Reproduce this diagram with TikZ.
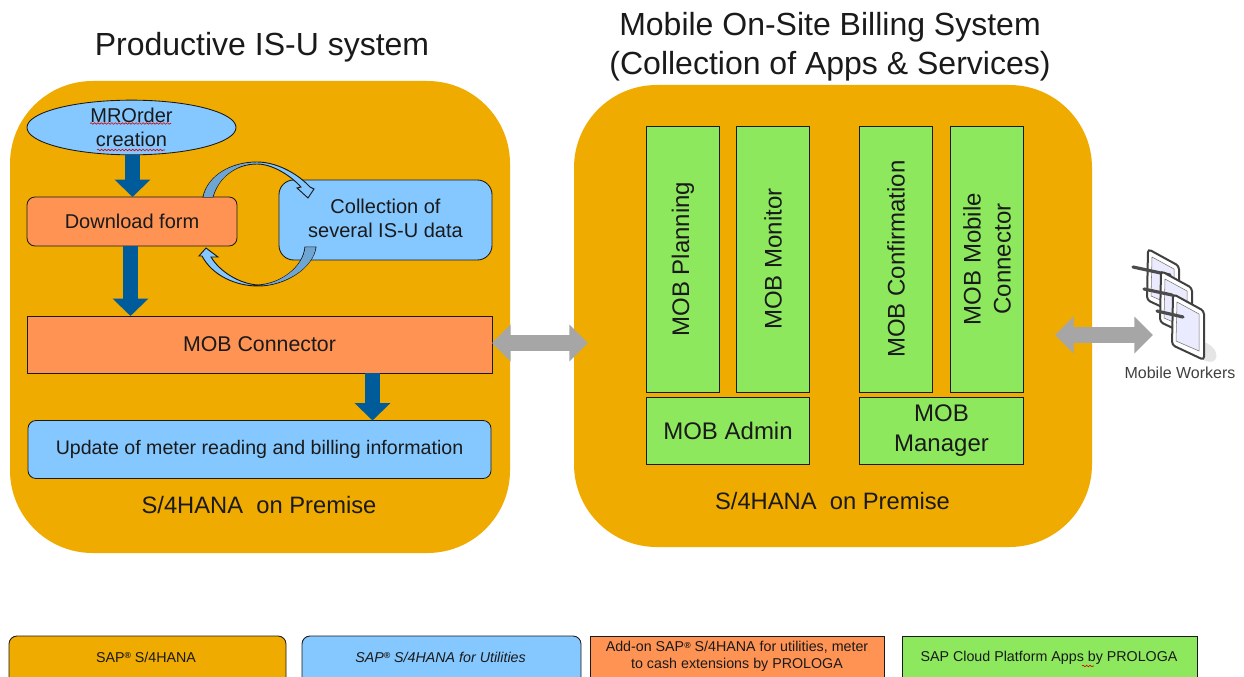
\documentclass[tikz,border=0pt]{standalone}
\usepackage{fontspec}
\setmainfont{Liberation Sans}
\usetikzlibrary{arrows.meta,shapes.geometric,decorations.pathmorphing}
\definecolor{amber}{HTML}{F0AB00}
\definecolor{skyb}{HTML}{85C8FF}
\definecolor{orng}{HTML}{FF9353}
\definecolor{grn}{HTML}{8DE85E}
\definecolor{navy}{HTML}{005B9A}
\definecolor{gry}{HTML}{A6A6A6}
\definecolor{steel}{HTML}{6FA5D2}
\definecolor{ink}{HTML}{1A1A1A}
\newcommand{\regmark}{\raisebox{0.45ex}{\fontsize{6.5}{7}\selectfont\bfseries ®}}
\tikzset{
  bsize/.style 2 args={minimum width=#1*0.75pt,minimum height=#2*0.75pt},
  base/.style={draw=ink,line width=0.65pt,inner sep=0pt,outer sep=0pt,align=center,text=ink,font=\fontsize{15}{18}\selectfont},
  bluebox/.style={base,fill=skyb,rounded corners=6pt},
  orangebox/.style={base,fill=orng},
  greenbox/.style={base,fill=grn,font=\fontsize{18}{22.5}\selectfont},
  panel/.style={inner sep=0pt,outer sep=0pt,fill=amber,rounded corners=62pt},
  legend/.style={base,font=\fontsize{10.7}{14}\selectfont},
  legendtext/.style={inner sep=0pt,text=ink,align=center,font=\fontsize{10.7}{12.75}\selectfont},
  title/.style={inner sep=0pt,text=ink,align=center,font=\fontsize{24}{29}\selectfont},
  caption/.style={inner sep=0pt,text=ink,font=\fontsize{17.8}{20}\selectfont},
  downarrow/.style={draw=navy,line width=11.5pt,-{Triangle[length=13pt,width=26pt]}},
  bothways/.style={draw=gry,line width=12pt,{Triangle[length=14pt,width=27pt]}-{Triangle[length=14pt,width=27pt]}},
  loop/.style={draw=ink,line width=0.7pt,fill=skyb},
  loopdark/.style={draw=none,fill=steel},
  squig/.style={draw=red!85!black,line width=0.45pt,decorate,decoration={snake,segment length=2.6pt,amplitude=0.6pt}},
  tabbody/.style={draw=black!75,line width=1.5pt,fill=white,rounded corners=2.5pt},
  tabscreen/.style={draw=black!55,line width=0.4pt,fill=blue!8},
  pen/.style={draw=black!70,line width=2.4pt,line cap=round},
}
\newcommand{\tablet}[2]{%
  \begin{scope}[shift={(#1,#2)}]
    \draw[tabbody] (1173,294) -- (1204,311) -- (1204,360) -- (1172,345) -- cycle;
    \draw[tabscreen] (1177,302) -- (1199,314) -- (1199,351) -- (1176,341) -- cycle;
  \end{scope}}
\begin{document}
\begin{tikzpicture}[x=0.75pt,y=-0.75pt]
\clip (0,0) rectangle (1244,677);
% panels
\node[panel,bsize={500}{472}] (left) at (260,317) {};
\node[panel,bsize={518}{462}] (right) at (833,316) {};
% titles
\node[title] (t1) at (262,47) {Productive IS-U system};
\node[title] (t2) at (830,46.5) {Mobile On-Site Billing System\\(Collection of Apps \& Services)};
% left boxes
\node[base,ellipse,fill=skyb,bsize={209}{49}] (mr) at (131.5,127.5) {MROrder\\creation};
\node[base,fill=orng,rounded corners=6pt,bsize={210}{49}] (dl) at (132,221.5) {Download form};
\node[bluebox,rounded corners=11pt,bsize={213}{80}] (coll) at (385.5,220) {Collection of\\several IS-U data\\[-15pt]\mbox{}};
\node[orangebox,font=\fontsize{16}{18}\selectfont,bsize={465}{57}] (conn) at (259.5,344.5) {MOB Connector};
\node[bluebox,font=\fontsize{14.7}{18}\selectfont,bsize={463}{58}] (upd) at (259.5,449.5) {Update of meter reading and billing information};
\node[caption] (c1) at (259,505) {S/4HANA\ \ on Premise};
\node[caption] (c2) at (832.5,501) {S/4HANA\ \ on Premise};
% spell-check marks
\draw[squig] (90,123.5) -- (171,123.5);
\draw[squig] (97,150) -- (165,150);
% loop arrows
\draw[loop] (203,197) .. controls (208,175) and (232,162) .. (257,162)
  .. controls (275,162) and (296,172) .. (310,187) -- (314,189) -- (308,198) -- (297,188) -- (301,187)
  .. controls (290,175) and (272,164) .. (257,164)
  .. controls (235,164) and (218,178) .. (213,197) -- cycle;
\fill[loopdark] (203.5,197) .. controls (208,175) and (232,162.5) .. (257,162.5)
  .. controls (235,164) and (218,178) .. (212.5,197) -- cycle;
\draw[loop] (316,247) .. controls (313,268) and (285,286) .. (258,286)
  .. controls (235,286) and (212,275) .. (202,256) -- (199,256) -- (206,248) -- (218,257) -- (211,257)
  .. controls (220,272) and (240,284) .. (258,285)
  .. controls (280,284) and (303,268) .. (305,247) -- cycle;
\fill[loopdark] (315.5,247.5) .. controls (313,268) and (285,285.5) .. (258,285.5)
  .. controls (280,284) and (303,268) .. (305.5,247.5) -- cycle;
% green columns
\node[greenbox,rotate=90,bsize={266}{73}] (g1) at (683,259) {MOB Planning};
\node[greenbox,rotate=90,bsize={266}{73}] (g2) at (773,259) {MOB Monitor};
\node[greenbox,rotate=90,bsize={266}{73}] (g3) at (896,259) {MOB Confirmation};
\node[greenbox,rotate=90,bsize={266}{73}] (g4) at (987,259) {MOB Mobile\\Connector};
\node[greenbox,bsize={163}{67}] (adm) at (728,431) {MOB Admin};
\node[greenbox,bsize={164}{67}] (mgr) at (941.5,431) {MOB\\Manager};
% connectors
\coordinate (bridge) at (588,343);
\draw[downarrow] (mr.south -| 132.5,0) -- (dl.north -| 132.5,0);
\draw[downarrow] (dl.south -| 130.5,0) -- (conn.north -| 130.5,0);
\draw[downarrow] (conn.south -| 372.5,0) -- (upd.north -| 372.5,0);
\draw[bothways] (conn.east |- bridge) -- (bridge);
% tablets
\fill[black!10,rotate around={-40:(1206,352)}] (1206,352) ellipse [x radius=9pt,y radius=6pt];
\tablet{-25}{-45}
\draw[pen] (1133,267) -- (1170,275);
\tablet{-12}{-23}
\draw[pen] (1144,289) -- (1172,295);
\tablet{0}{0}
\draw[pen] (1157,311) -- (1183,317);
\coordinate (mw) at (1153,335);
\coordinate (re) at (1055,335);
\draw[bothways] (re) -- (mw);
\node[inner sep=0pt,text=black!75,font=\fontsize{12}{14}\selectfont] (mwl) at (1180,373) {Mobile Workers};
% legend
\node[legend,fill=amber,rounded corners=6pt,bsize={277}{56}] (l1) at (147.5,664) {};
\node[legend,fill=skyb,rounded corners=6pt,bsize={279}{56}] (l2) at (441.5,664) {};
\node[legend,fill=orng,bsize={294}{56}] (l3) at (737,664) {};
\node[legend,fill=grn,bsize={295}{56}] (l4) at (1049.5,664) {};
\node[legendtext] (l1t) at (146,657) {SAP\regmark\ S/4HANA};
\node[legendtext,font=\fontsize{10.7}{12.75}\selectfont\itshape] (l2t) at (440.5,657) {SAP\regmark\ S/4HANA for Utilities};
\node[legendtext] (l3t) at (737,656.5) {Add-on SAP\regmark\ S/4HANA for utilities, meter\\to cash extensions by PROLOGA};
\node[legendtext] (l4t) at (1049,657.5) {SAP Cloud Platform Apps by PROLOGA};
\draw[squig] (1082,666) -- (1094,666);
\end{tikzpicture}
\end{document}
